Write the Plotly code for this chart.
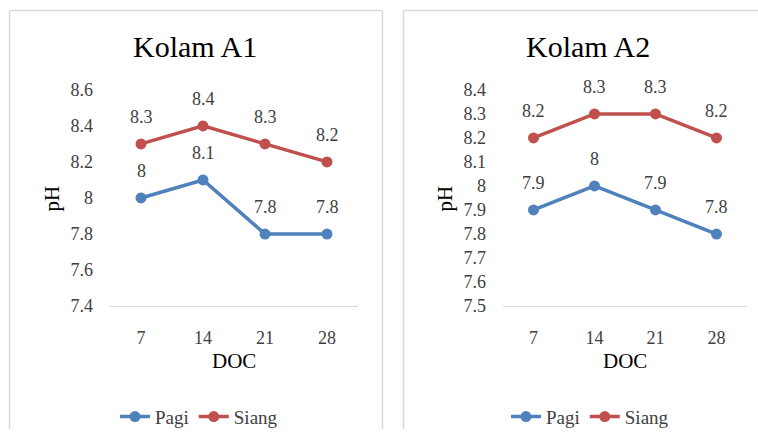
import plotly.graph_objects as go

# ---- data ----
doc = ["7", "14", "21", "28"]
a1_pagi = [8.0, 8.1, 7.8, 7.8]
a1_siang = [8.3, 8.4, 8.3, 8.2]
a2_pagi = [7.9, 8.0, 7.9, 7.8]
a2_siang = [8.2, 8.3, 8.3, 8.2]
titles = ["Kolam A1", "Kolam A2"]
series_names = ["Pagi", "Siang"]
a1_ticks = [7.4, 7.6, 7.8, 8.0, 8.2, 8.4, 8.6]
a2_ticks = [7.5, 7.6, 7.7, 7.8, 7.9, 8.0, 8.1, 8.2, 8.3, 8.4]

W, H = 758, 439
# empirical vertical calibration of the rendered page
VA, VB = 10.6, 0.949
BLUE = "#4F81BD"
RED = "#C0504D"
FONT = "Liberation Serif, Times New Roman, serif"
GRAY = "#D9D9D9"
TXT = "#404040"

def px(x):
    return x / W

def py(y):
    fy = (y - VA) / VB
    return min(max((H - fy) / H, 0.0), 0.999)

fig = go.Figure()

panels = [
    dict(p=a1_pagi, s=a1_siang, ticks=a1_ticks, xd=(110, 358), title=titles[0],
         tx=195, ytitle_x=52, lx=199, xa="x", ya="y", legend="legend"),
    dict(p=a2_pagi, s=a2_siang, ticks=a2_ticks, xd=(503, 747), title=titles[1],
         tx=588, ytitle_x=445, lx=590, xa="x2", ya="y2", legend="legend2"),
]

annotations = []
for i, pn in enumerate(panels):
    for name, vals, col in [(series_names[0], pn["p"], BLUE), (series_names[1], pn["s"], RED)]:
        fig.add_trace(go.Scatter(
            x=doc, y=vals, name=name, mode="lines+markers",
            line=dict(color=col, width=3.5),
            marker=dict(color=col, size=11),
            xaxis=pn["xa"], yaxis=pn["ya"], legend=pn["legend"],
        ))
        for j, yv in enumerate(vals):
            annotations.append(dict(
                x=j, y=yv, xref=pn["xa"], yref=pn["ya"], text=f"{yv:g}",
                showarrow=False, yshift=27, font=dict(family=FONT, size=18, color=TXT),
            ))
    annotations.append(dict(x=px(pn["tx"]), y=py(47), xref="paper", yref="paper",
                            text=pn["title"], showarrow=False, xanchor="center", yanchor="middle",
                            font=dict(family=FONT, size=30, color="#000000")))
    annotations.append(dict(x=px((pn["xd"][0] + pn["xd"][1]) / 2), y=py(360), xref="paper", yref="paper",
                            text="DOC", showarrow=False, xanchor="center", yanchor="middle",
                            font=dict(family=FONT, size=21, color="#000000")))
    annotations.append(dict(x=px(pn["ytitle_x"]), y=py(198), xref="paper", yref="paper",
                            text="pH", showarrow=False, xanchor="center", yanchor="middle", textangle=-90,
                            font=dict(family=FONT, size=21, color="#000000")))

axis_common_x = dict(type="category", showgrid=False, showline=True, linecolor=GRAY, linewidth=1,
                     ticks="", tickfont=dict(family=FONT, size=18, color=TXT),
                     ticklabelstandoff=15, zeroline=False, fixedrange=True)
axis_common_y = dict(showgrid=False, showline=False, zeroline=False, ticks="",
                     tickfont=dict(family=FONT, size=18, color=TXT),
                     ticklabelstandoff=16, fixedrange=True)

ydom = [py(305), py(90)]
legend_common = dict(orientation="h", yanchor="middle", xanchor="center",
                     font=dict(family=FONT, size=19, color=TXT), itemwidth=30,
                     bgcolor="rgba(0,0,0,0)")

frame_line = dict(color=GRAY, width=1.5)
top = py(10.5)
shapes = []
for x0, x1 in [(px(9.5), px(382.5)), (px(403.5), None)]:
    shapes.append(dict(type="line", xref="paper", yref="paper", x0=x0, x1=x0, y0=0, y1=top,
                       line=frame_line, layer="below"))
    shapes.append(dict(type="line", xref="paper", yref="paper", x0=x0, x1=x1 if x1 else 1,
                       y0=top, y1=top, line=frame_line, layer="below"))
    if x1:
        shapes.append(dict(type="line", xref="paper", yref="paper", x0=x1, x1=x1, y0=0, y1=top,
                           line=frame_line, layer="below"))

fig.update_layout(
    width=W, height=H, margin=dict(l=0, r=0, t=0, b=0),
    paper_bgcolor="white", plot_bgcolor="white",
    xaxis=dict(domain=[px(110), px(358)], anchor="y", range=[-0.5, 3.5], **axis_common_x),
    yaxis=dict(domain=ydom, anchor="x", range=[7.4, 8.6], tickvals=a1_ticks, **axis_common_y),
    xaxis2=dict(domain=[px(503), px(747)], anchor="y2", range=[-0.5, 3.5], **axis_common_x),
    yaxis2=dict(domain=ydom, anchor="x2", range=[7.5, 8.4], tickvals=a2_ticks, **axis_common_y),
    legend=dict(x=px(panels[0]["lx"]), y=py(415), **legend_common),
    legend2=dict(x=px(panels[1]["lx"]), y=py(415), **legend_common),
    annotations=annotations,
    shapes=shapes,
    modebar=dict(bgcolor="rgba(0,0,0,0)", color="rgba(0,0,0,0)", activecolor="rgba(0,0,0,0)"),
)

fig.write_html(
    "out.html",
    config={"displaylogo": False},
    post_script="document.body.style.margin='0';document.documentElement.style.overflow='hidden';",
)
